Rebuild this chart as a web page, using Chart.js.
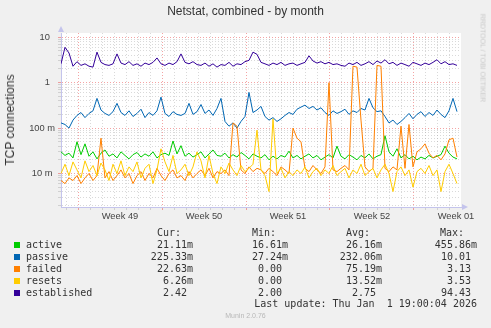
<!DOCTYPE html>
<html>
<head>
<meta charset="utf-8">
<script src="https://cdn.jsdelivr.net/npm/chart.js@4.4.1/dist/chart.umd.min.js"></script>
<style>
  body { margin: 0; background: #f0f0f0; }
  #wrap { position: relative; width: 491px; height: 328px; overflow: hidden; }
  #chart { position: absolute; left: 0; top: 0; }
  .txt { position: absolute; white-space: pre; }
  .title { left: 0; width: 491px; top: 4px; text-align: center; font: 12px "Liberation Sans", Arial, sans-serif; color: #333; }
  .ytitle { left: 10px; top: 120px; font: 12px "Liberation Sans", Arial, sans-serif; color: #333;
            transform: translate(-50%, -50%) rotate(-90deg); }
  .rrd { left: 483px; top: 58px; font: 7px "Liberation Sans", Arial, sans-serif; color: #c8c8c8;
         transform: translate(-50%, -50%) rotate(90deg); }
  .mono { font: 10px "DejaVu Sans Mono", monospace; color: #333; line-height: 12px; }
  .sw { position: absolute; width: 6px; height: 6px; left: 14px; }
  .munin { left: 0; width: 491px; text-align: center; top: 312px; font: 7px "Liberation Sans", Arial, sans-serif; color: #b8b8b8; }
</style>
</head>
<body>
<div id="wrap">
  <canvas id="chart" width="491" height="328"></canvas>
  <div class="txt title">Netstat, combined - by month</div>
  <div class="txt ytitle">TCP connections</div>
  <div class="txt rrd">RRDTOOL / TOBI OETIKER</div>
  <div class="txt munin">Munin 2.0.76</div>
</div>
<script>
// x axis: days, one sample every 8 hours
const xStart = -1.417;
const xEnd = 31.917;
const sampleStep = 1 / 3;

const weekLabels = ['Week 49', 'Week 50', 'Week 51', 'Week 52', 'Week 01'];
const yDecades = [0.01, 0.1, 1, 10];
const yDecadeLabels = ['10 m ', '100 m', '1  ', '10  '];

const active = [
  0.030, 0.025, 0.028, 0.022, 0.050, 0.026, 0.045, 0.024, 0.030, 0.021,
  0.028, 0.033, 0.024, 0.027, 0.022, 0.030, 0.025, 0.021, 0.026, 0.029,
  0.023, 0.027, 0.024, 0.030, 0.022, 0.026, 0.028, 0.025, 0.052, 0.027,
  0.041, 0.024, 0.028, 0.023, 0.026, 0.030, 0.022, 0.027, 0.033, 0.025,
  0.024, 0.028, 0.022, 0.026, 0.023, 0.029, 0.025, 0.021, 0.027, 0.024,
  0.022, 0.026, 0.020, 0.024, 0.021, 0.025, 0.023, 0.031, 0.022, 0.025,
  0.021, 0.024, 0.027, 0.022, 0.025, 0.020, 0.023, 0.026, 0.022, 0.040,
  0.024, 0.021, 0.026, 0.023, 0.020, 0.025, 0.022, 0.027, 0.021, 0.024,
  0.026, 0.068, 0.030, 0.024, 0.035, 0.022, 0.026, 0.021, 0.024, 0.020,
  0.023, 0.021, 0.025, 0.022, 0.024, 0.026, 0.040, 0.028, 0.023, 0.021
];

const passive = [
  0.13, 0.12, 0.10, 0.15, 0.19, 0.22, 0.17, 0.21, 0.24, 0.45,
  0.25, 0.21, 0.19, 0.23, 0.35, 0.22, 0.19, 0.24, 0.18, 0.21,
  0.26, 0.17, 0.22, 0.19, 0.24, 0.48, 0.21, 0.18, 0.23, 0.20,
  0.19, 0.21, 0.35, 0.20, 0.23, 0.33, 0.21, 0.25, 0.19, 0.27,
  0.45, 0.14, 0.11, 0.13, 0.10, 0.14, 0.18, 0.61, 0.22, 0.25,
  0.30, 0.18, 0.15, 0.17, 0.14, 0.16, 0.19, 0.22, 0.20, 0.26,
  0.29, 0.32, 0.27, 0.30, 0.25, 0.28, 0.22, 0.19, 0.24, 0.21,
  0.23, 0.26, 0.20, 0.24, 0.22, 0.27, 0.25, 0.45, 0.28, 0.23,
  0.24, 0.18, 0.13, 0.15, 0.12, 0.14, 0.17, 0.21, 0.16, 0.20,
  0.23, 0.18, 0.22, 0.19, 0.25, 0.20, 0.17, 0.24, 0.45, 0.23
];

const failed = [
  0.007, 0.006, 0.008, 0.007, 0.009, 0.006, 0.008, 0.010, 0.007, 0.009,
  0.060, 0.008, 0.011, 0.007, 0.009, 0.012, 0.008, 0.010, 0.006, 0.009,
  0.011, 0.007, 0.010, 0.008, 0.013, 0.009, 0.007, 0.010, 0.012, 0.008,
  0.009, 0.007, 0.011, 0.008, 0.010, 0.012, 0.009, 0.013, 0.008, 0.011,
  0.010, 0.012, 0.009, 0.130, 0.110, 0.012, 0.010, 0.014, 0.011, 0.013,
  0.012, 0.010, 0.013, 0.011, 0.009, 0.014, 0.012, 0.010, 0.100, 0.060,
  0.050, 0.013, 0.011, 0.015, 0.012, 0.010, 0.014, 1.000, 0.012, 0.011,
  0.013, 0.015, 0.012, 2.300, 2.200, 0.150, 0.014, 0.011, 0.013, 2.400,
  2.300, 0.013, 0.011, 0.014, 0.012, 0.110, 0.013, 0.120, 0.014, 0.030,
  0.035, 0.045, 0.028, 0.022, 0.025, 0.020, 0.027, 0.055, 0.060, 0.023
];

const resets = [
  0.010, 0.016, 0.009, 0.018, 0.012, 0.008, 0.019, 0.011, 0.015, 0.009,
  0.017, 0.012, 0.007, 0.016, 0.010, 0.019, 0.009, 0.014, 0.011, 0.018,
  0.008, 0.013, 0.016, 0.006, 0.012, 0.035, 0.018, 0.011, 0.025, 0.010,
  0.012, 0.016, 0.009, 0.014, 0.030, 0.019, 0.008, 0.025, 0.010, 0.006,
  0.014, 0.010, 0.017, 0.012, 0.009, 0.015, 0.011, 0.013, 0.016, 0.090,
  0.012, 0.009, 0.004, 0.160, 0.010, 0.013, 0.008, 0.011, 0.009, 0.012,
  0.010, 0.014, 0.008, 0.011, 0.013, 0.009, 0.012, 0.010, 0.015, 0.009,
  0.011, 0.013, 0.008, 0.012, 0.010, 0.016, 0.009, 0.011, 0.013, 0.008,
  0.012, 0.016, 0.010, 0.004, 0.011, 0.014, 0.009, 0.012, 0.005, 0.011,
  0.013, 0.010, 0.015, 0.009, 0.012, 0.004, 0.011, 0.016, 0.010, 0.006
];

const established = [
  2.6, 6.0, 4.5, 2.3, 2.9, 2.4, 2.6, 2.3, 2.2, 4.7,
  2.8, 2.5, 2.4, 2.6, 4.3, 2.7, 2.5, 2.9, 2.4, 2.6,
  2.3, 2.7, 2.5, 2.8, 3.5, 2.6, 2.4, 2.7, 2.5, 2.9,
  4.3, 2.8, 2.6, 2.9, 2.5, 2.4, 2.7, 2.3, 2.6, 2.2,
  2.5, 2.4, 2.8, 2.3, 2.6, 2.5, 2.9, 3.1, 4.7, 4.2,
  2.8, 2.6, 2.4, 2.7, 2.5, 2.8, 2.4, 2.6, 2.7, 2.4,
  2.6, 2.8, 3.9, 3.0, 2.7, 2.9, 2.6, 2.8, 2.5, 2.6,
  2.4, 2.3, 2.7, 2.5, 2.8, 2.4, 2.6, 2.9, 2.5, 3.0,
  2.7, 3.2, 2.6, 2.8, 2.4, 2.7, 2.5, 2.3, 2.8, 2.6,
  2.4, 2.7, 2.5, 2.8, 3.2, 2.6, 2.9, 2.5, 2.6, 2.4
];

// legend table
const legendNames = ['active', 'passive', 'failed', 'resets', 'established'];
const legendColors = ['#00cc00', '#0066b3', '#ff8000', '#ffcc00', '#330099'];
const legendCur = ['21.11m', '225.33m', '22.63m', '6.26m', '2.42 '];
const legendMin = ['16.61m', '27.24m', '0.00 ', '0.00 ', '2.00 '];
const legendAvg = ['26.16m', '232.06m', '75.19m', '13.52m', '2.75 '];
const legendMax = ['455.86m', '10.01 ', '3.13 ', '3.53 ', '94.43 '];

const series = [active, passive, failed, resets, established];

function toPoints(arr) {
  return arr.map((v, i) => ({ x: xStart + i * sampleStep, y: v }));
}

function isDecade(v) {
  const l = Math.log10(v);
  return Math.abs(l - Math.round(l)) < 1e-6;
}

const minorGrid = 'rgba(160,160,160,0.4)';
const majorGrid = 'rgba(235,90,90,0.55)';
const axisColor = '#c4c4ec';

const plotDecor = {
  id: 'plotDecor',
  beforeDraw(chart) {
    const { ctx, chartArea: a } = chart;
    ctx.save();
    ctx.fillStyle = '#ffffff';
    ctx.fillRect(a.left, a.top, a.right - a.left, a.bottom - a.top);
    ctx.restore();
  },
  afterDraw(chart) {
    const { ctx, chartArea: a } = chart;
    ctx.save();
    ctx.fillStyle = axisColor;
    ctx.beginPath();
    ctx.moveTo(a.left - 3, a.top - 1);
    ctx.lineTo(a.left + 3, a.top - 1);
    ctx.lineTo(a.left, a.top - 7);
    ctx.closePath();
    ctx.fill();
    ctx.beginPath();
    ctx.moveTo(a.right + 1, a.bottom - 3);
    ctx.lineTo(a.right + 1, a.bottom + 3);
    ctx.lineTo(a.right + 7, a.bottom);
    ctx.closePath();
    ctx.fill();
    ctx.restore();
  }
};

new Chart(document.getElementById('chart'), {
  type: 'line',
  data: {
    datasets: legendNames.map((name, i) => ({
      label: name,
      data: toPoints(series[i]),
      borderColor: legendColors[i],
      borderWidth: 1,
      pointRadius: 0,
      tension: 0,
      fill: false,
      order: legendNames.length - i
    }))
  },
  options: {
    responsive: false,
    animation: false,
    devicePixelRatio: 1,
    layout: { padding: { left: 0, top: 33, right: 30, bottom: 105 } },
    plugins: { legend: { display: false }, tooltip: { enabled: false } },
    scales: {
      x: {
        type: 'linear',
        min: xStart,
        max: xEnd,
        afterBuildTicks: scale => {
          const ticks = [];
          for (let d = -1; d <= 31; d++) ticks.push({ value: d });
          weekLabels.forEach((w, k) => ticks.push({ value: 3.5 + 7 * k }));
          ticks.sort((p, q) => p.value - q.value);
          scale.ticks = ticks;
        },
        afterFit: scale => { scale.height = 16; scale.paddingLeft = 0; scale.paddingRight = 0; },
        ticks: {
          autoSkip: false,
          maxRotation: 0,
          minRotation: 0,
          padding: 1,
          color: '#444',
          font: { family: 'Liberation Sans', size: 9.3 },
          callback: v => {
            const k = (v - 3.5) / 7;
            return Number.isInteger(k) ? weekLabels[k] : '';
          }
        },
        grid: {
          color: c => {
            const v = c.tick.value;
            if (!Number.isInteger(v)) return 'rgba(0,0,0,0)';
            return v % 7 === 0 ? majorGrid : minorGrid;
          },
          tickLength: 3,
          lineWidth: 1
        },
        border: { color: axisColor, dash: [1, 2] }
      },
      y: {
        type: 'logarithmic',
        min: 0.00183,
        max: 12.4,
        afterBuildTicks: scale => {
          const ticks = [];
          for (let e = -3; e <= 1; e++) {
            for (let m = 1; m <= 9; m++) {
              const v = m * Math.pow(10, e);
              if (v >= scale.min && v <= scale.max) ticks.push({ value: v });
            }
          }
          scale.ticks = ticks;
        },
        afterFit: scale => { scale.width = 61; scale.paddingTop = 0; scale.paddingBottom = 0; },
        ticks: {
          autoSkip: false,
          padding: 3,
          color: '#444',
          font: { family: 'Liberation Sans', size: 9.3 },
          callback: v => {
            const idx = yDecades.findIndex(d => Math.abs(d - v) / d < 1e-6);
            return idx >= 0 ? yDecadeLabels[idx] : '';
          }
        },
        grid: {
          color: c => isDecade(c.tick.value) ? majorGrid : minorGrid,
          tickLength: 3,
          lineWidth: 1
        },
        border: { color: axisColor, dash: [1, 2] }
      }
    }
  },
  plugins: [plotDecor]
});

// legend below the plot
const wrap = document.getElementById('wrap');
function addText(text, x, y, align) {
  const el = document.createElement('div');
  el.className = 'txt mono';
  el.textContent = text;
  el.style.top = y + 'px';
  if (align === 'right') {
    el.style.right = (491 - x) + 'px';
    el.style.textAlign = 'right';
  } else {
    el.style.left = x + 'px';
  }
  wrap.appendChild(el);
}

addText('Cur:', 157, 227);
addText('Min:', 252, 227);
addText('Avg:', 346, 227);
addText('Max:', 440, 227);

legendNames.forEach((name, i) => {
  const top = 239 + i * 12;
  const sw = document.createElement('div');
  sw.className = 'sw';
  sw.style.top = (top + 3) + 'px';
  sw.style.background = legendColors[i];
  wrap.appendChild(sw);
  addText(name, 26, top);
  addText(legendCur[i], 193, top, 'right');
  addText(legendMin[i], 288, top, 'right');
  addText(legendAvg[i], 382, top, 'right');
  addText(legendMax[i], 477, top, 'right');
});

addText('Last update: Thu Jan  1 19:00:04 2026', 477, 298, 'right');
</script>
</body>
</html>
